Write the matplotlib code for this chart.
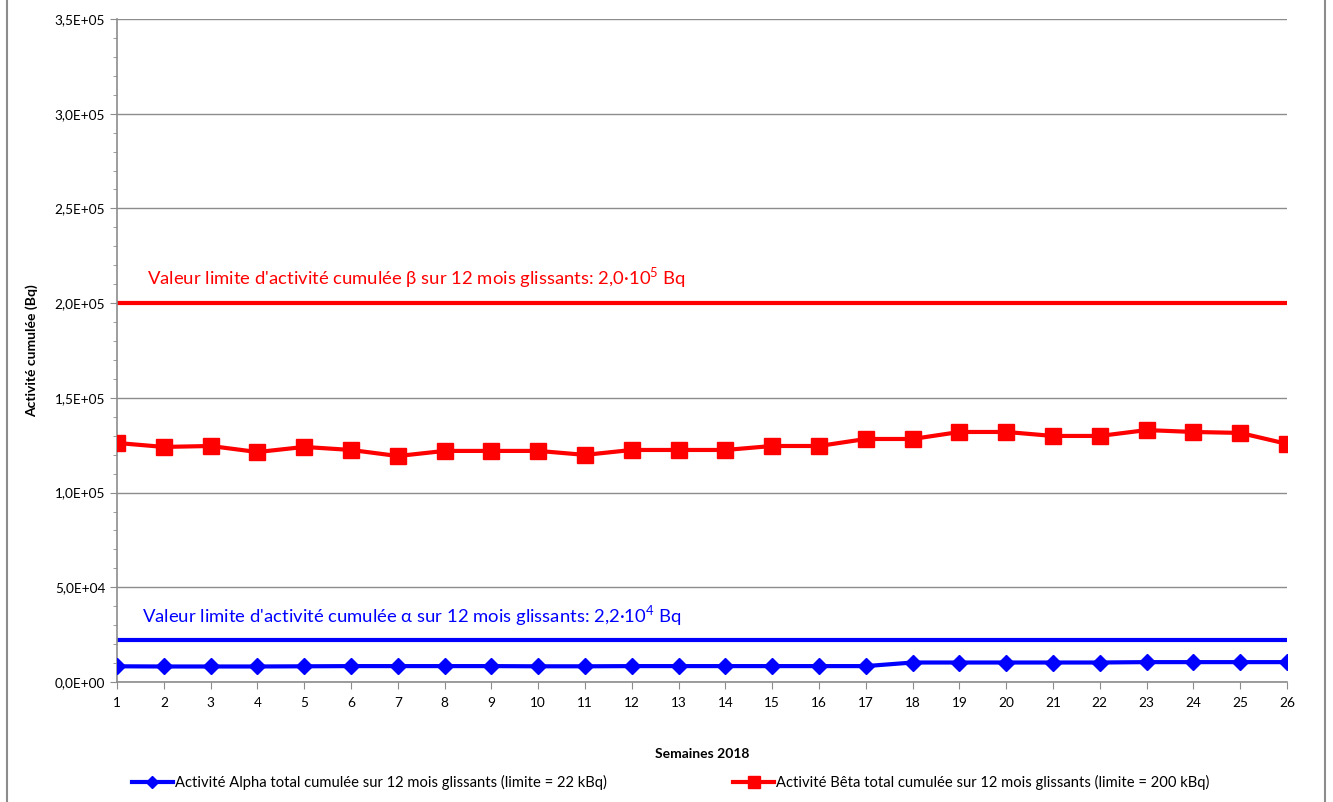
import matplotlib.pyplot as plt
import numpy as np
from matplotlib.ticker import FuncFormatter, MultipleLocator

plt.rcParams['font.family'] = ['Lato', 'DejaVu Sans']

semaines = np.arange(1, 27)
beta = [126200, 124100, 124600, 121400, 124100, 122500, 119300, 122000, 122000, 122000,
        119900, 122500, 122500, 122500, 124600, 124600, 128300, 128300, 132000, 132000,
        129900, 129900, 133000, 132000, 131500, 125700]
alpha = [8300, 8200, 8200, 8200, 8300, 8400, 8400, 8400, 8400, 8300,
         8300, 8400, 8400, 8400, 8400, 8400, 8400, 10300, 10300, 10300,
         10300, 10300, 10500, 10500, 10500, 10500]
limite_beta = 2.0e5
limite_alpha = 2.2e4

fig = plt.figure(figsize=(13.33, 8.02), dpi=100)
ax = fig.add_axes([0.0878, 0.1496, 0.8777, 0.8267])

ax.plot(semaines, [limite_beta] * len(semaines), color='#ff0000', lw=3, zorder=2)
ax.plot(semaines, [limite_alpha] * len(semaines), color='#0000ff', lw=3, zorder=2)
la, = ax.plot(semaines, alpha, color='#0000ff', lw=3, marker='D', ms=8, zorder=3,
              label='Activité Alpha total cumulée sur 12 mois glissants (limite = 22 kBq)')
lb, = ax.plot(semaines, beta, color='#ff0000', lw=3, marker='s', ms=11, zorder=3,
              label='Activité Bêta total cumulée sur 12 mois glissants (limite = 200 kBq)')

ax.text(1.65, 2.07e5, "Valeur limite d'activité cumulée β sur 12 mois glissants: 2,0·10$^{\\mathregular{5}}$ Bq",
        color='#ff0000', fontsize=13.3, va='bottom')
ax.text(1.53, 2.87e4, "Valeur limite d'activité cumulée α sur 12 mois glissants: 2,2·10$^{\\mathregular{4}}$ Bq",
        color='#0000ff', fontsize=13.3, va='bottom')

ax.set_xlim(1, 26)
ax.set_ylim(0, 3.5e5)
ax.set_xticks(semaines)
ax.yaxis.set_major_locator(MultipleLocator(5e4))
ax.yaxis.set_minor_locator(MultipleLocator(1e4))
ax.yaxis.set_major_formatter(FuncFormatter(
    lambda v, p: ('%.1E' % v).replace('.', ',')))
ax.grid(axis='y', color='#8c8c8c', lw=1)
ax.set_axisbelow(True)
for s in ['top', 'right']:
    ax.spines[s].set_visible(False)
for s in ['left', 'bottom']:
    ax.spines[s].set_color('#8c8c8c')
    ax.spines[s].set_linewidth(1.2)
ax.tick_params(axis='both', which='both', color='#8c8c8c', labelsize=9.8)
ax.tick_params(axis='x', length=5, pad=6)
ax.tick_params(axis='y', which='major', length=5)
ax.tick_params(axis='y', which='minor', length=3)

ax.set_xlabel('Semaines 2018', fontsize=10, fontweight='bold', labelpad=28)
ax.set_ylabel('Activité cumulée (Bq)', fontsize=10, fontweight='bold', labelpad=12)

fig.legend(handles=[la, lb], loc='center', bbox_to_anchor=(0.503, 0.024), ncol=2,
           frameon=False, fontsize=10.6, columnspacing=8.6, handlelength=2.8,
           handletextpad=0.1, markerscale=0.8)

border = plt.Rectangle((0.005, -0.01), 0.989, 1.02, transform=fig.transFigure,
                       fill=False, edgecolor='#8c8c8c', lw=1.5)
fig.patches.append(border)

fig.savefig('out.png', dpi=100)
